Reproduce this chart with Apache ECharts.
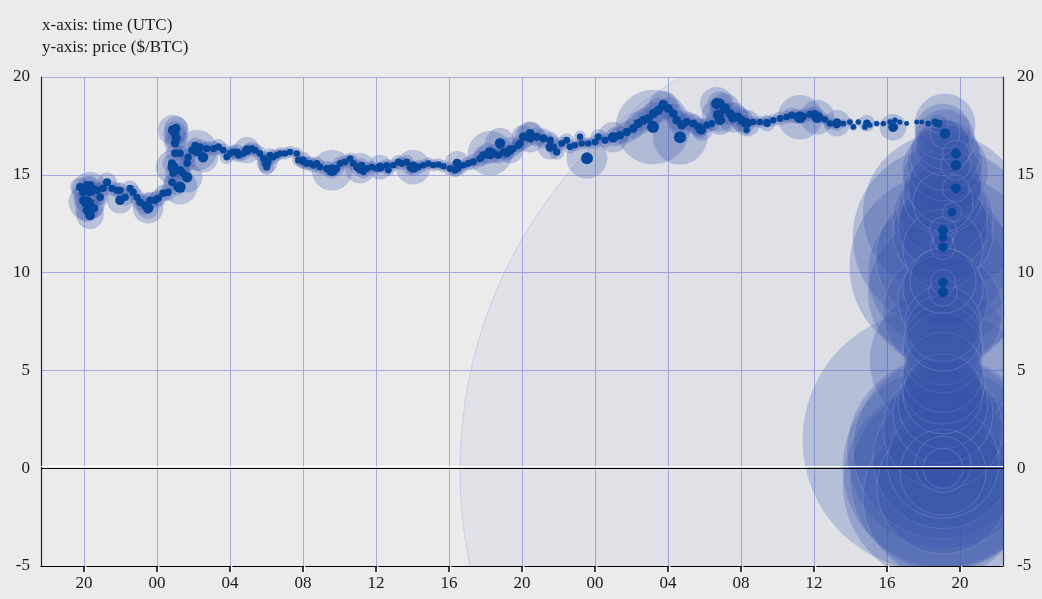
<!DOCTYPE html>
<html><head><meta charset="utf-8">
<script src="https://cdn.jsdelivr.net/npm/echarts@6/dist/echarts.min.js"></script>
<style>html,body{margin:0;padding:0;background:#ebebeb;}#c{width:1042px;height:599px;}</style>
</head><body><div id="c"></div>
<script>
// x values: hours since 00:00 UTC of day 1; y: price ($/BTC); third value: volume (BTC)
const hourTicks = [20,24,28,32,36,40,44,48,52,56,60,64,68];
const hourLabels = ['20','00','04','08','12','16','20','00','04','08','12','16','20'];

const trades = [
[19.78,14.37,40],[19.95,14.11,40],[20.16,14.47,40],[20.33,14.47,40],[20.49,14.31,30],[19.95,13.70,40],[20.16,13.60,60],[20.33,13.55,40],[20.16,13.19,60],[20.33,12.93,80],[20.55,13.29,40],[20.71,14.21,30],[20.88,13.85,30],[21.04,14.31,30],[21.26,14.62,40],[21.53,14.31,25],[21.81,14.21,25],[21.97,14.21,25],[22.25,13.85,30],[22.52,14.31,25],[22.69,14.11,25],[22.90,13.85,25],[23.07,13.60,30],[23.34,13.44,40],[23.51,13.29,50],[23.62,13.70,30],[23.89,13.70,30],[24.06,13.80,30],[24.33,14.06,30],[24.60,14.11,30],[24.82,14.62,30],[24.88,15.08,30],[24.82,15.59,40],[24.99,16.10,40],[24.99,16.62,50],[24.99,17.13,60],[25.04,17.38,60],[25.04,16.87,60],[25.26,16.10,30],[25.26,15.23,40],[25.10,14.37,30],[25.43,15.08,30],[25.65,15.59,30],[25.70,15.90,30],[25.92,16.26,30],
[20.33,14.21,144],[20.16,13.60,144],[21.97,13.70,75],[23.51,13.29,100],[24.88,17.28,100],[24.88,15.39,128],[25.26,14.37,128],[26.52,15.90,100],[26.19,16.26,178],[25.65,14.87,100],
[26.08,16.51,25],[26.36,16.43,25],[26.72,16.34,25],[27.09,16.34,25],[27.36,16.43,25],[27.63,16.26,20],[27.82,15.91,20],[28.00,16.09,20],[28.18,16.17,20],[28.46,16.00,20],[28.73,16.09,20],[29.00,16.26,20],[29.19,16.34,20],[29.37,16.26,20],[29.64,16.09,20],[29.83,15.83,20],[29.92,15.58,20],[30.01,15.40,25],[30.10,15.75,20],[30.19,16.00,20],[30.37,15.91,20],[30.56,16.00,15],[30.74,16.09,15],[31.01,16.09,15],[31.29,16.17,15],[31.66,16.09,15],[31.74,15.75,15],[32.02,15.66,20],[32.20,15.58,20],[32.38,15.58,20],[32.57,15.49,20],[32.75,15.58,20],[32.93,15.40,20],[33.30,15.32,25],[33.57,15.23,30],[33.85,15.32,25],[34.03,15.58,20],[34.30,15.66,20],[34.58,15.83,15],[34.76,15.58,20],[34.94,15.40,25],[35.22,15.49,20],[35.31,15.15,20],[35.49,15.32,20],[35.77,15.40,15],[36.04,15.32,15],[36.31,15.40,15],[36.59,15.49,15],[36.68,15.23,15],[36.95,15.49,15],[37.22,15.66,20],[37.41,15.58,20],[37.68,15.66,20],[37.86,15.40,25],[38.05,15.32,25],[38.32,15.40,20],[38.59,15.49,15],[38.87,15.58,15],[39.14,15.49,15],[39.42,15.53,15],[39.69,15.44,15],[40.06,15.32,20],[40.33,15.23,20],[40.51,15.32,15],[40.79,15.49,15],[41.06,15.58,20],[41.33,15.66,25],[41.70,15.83,30],[41.88,16.00,40],[42.15,16.09,50],[42.43,16.09,40],[42.70,16.00,30],[42.98,16.17,25],[43.25,16.17,25],[43.52,16.34,25],[43.80,16.51,25],
[28.93,16.26,75],[30.03,15.59,44],[33.59,15.23,178],[35.12,15.34,100],[36.22,15.39,64],[38.03,15.39,128],[40.44,15.59,64],[42.25,16.10,215],[43.34,16.26,75],[32.00,15.75,28],[28.38,16.15,28],
[43.16,16.09,25],[43.89,16.60,30],[44.07,16.94,60],[44.44,17.11,60],[44.81,16.94,40],[45.17,16.86,40],[45.54,16.77,30],[45.72,16.43,25],[45.90,16.17,25],[46.18,16.60,20],[46.45,16.77,20],[46.63,16.43,20],[46.90,16.51,15],[47.18,16.94,15],[47.27,16.60,15],[47.63,16.60,15],[48.00,16.68,20],[48.18,16.94,25],[48.55,16.77,25],[49.10,16.94,40],[49.37,17.02,40],[49.74,17.19,50],[50.10,17.37,50],[50.37,17.62,60],[50.65,17.79,60],[50.92,17.88,60],[51.20,18.13,60],[51.47,18.30,70],[51.74,18.56,90],[52.02,18.39,60],[52.29,18.13,50],[52.48,17.79,50],[52.75,17.54,60],[53.02,17.70,40],[53.39,17.62,40],[53.66,17.45,40],[53.85,17.28,50],[54.12,17.54,25],[54.40,17.62,25],[54.67,18.64,120],[54.76,18.05,120],[54.85,17.79,90],[55.12,18.39,100],[55.40,18.13,60],[55.85,17.96,50],[56.04,17.79,60],[56.22,17.62,40],[56.31,17.28,10],[56.68,17.70,15],[57.04,17.70,15],[57.41,17.70,15],[57.77,17.79,15],[58.14,17.88,20],[58.50,17.96,20],[58.78,18.05,25],[59.05,17.99,25],[59.42,17.99,25],[59.78,18.10,25],[60.06,18.13,25],[60.33,17.96,20],[60.60,17.83,15],[60.88,17.62,15],[61.24,17.54,15],[61.61,17.62,8],[61.97,17.70,6],[62.16,17.45,6],[62.43,17.70,4],[62.80,17.45,6],[63.07,17.54,4],[63.44,17.62,4],[63.80,17.62,4],[64.17,17.70,6],[64.44,17.79,4],[64.71,17.70,3],[64.44,17.45,6],[65.08,17.62,2],[65.63,17.70,2],[65.90,17.70,2],[66.26,17.62,8],[66.63,17.70,15],[66.81,17.62,40],
[51.18,17.44,608],[52.66,16.92,324],[47.56,15.84,178],[48.99,16.92,100],[44.44,16.92,100],[45.54,16.41,64],[54.85,18.66,64],[55.56,17.94,100],[56.33,17.64,75],[59.23,17.94,215],[60.17,17.94,128],[61.26,17.64,75],[64.33,17.43,75],[62.90,17.64,28],[57.43,17.64,28],[42.80,16.61,100],[53.75,17.28,28],
[67.18,17.11,100],[67.78,16.09,80],[67.78,15.49,100],[67.78,14.31,80],[67.56,13.09,40],[67.07,12.17,80],[67.07,11.81,50],[67.07,11.30,70],[67.07,9.51,70],[67.07,9.00,90]
];

// large block trades (drawn as volume circles only)
const blockTrades = [
[67.18,17.6,400],[67.07,17.2,348],[67.18,16.8,400],[67.07,16.4,348],[67.18,16.0,544],[67.18,15.6,642],[67.18,15.2,822],[67.07,14.8,711],[67.18,14.4,608],[67.07,14.0,711],[67.07,13.6,400],[67.07,13.2,900],[67.07,13.0,2844],[67.07,12.8,1111],[67.07,12.4,900],[67.07,12.0,1111],[67.07,11.8,3600],[67.07,11.6,44],[67.07,11.2,711],[67.07,10.8,1995],[67.07,10.3,3844],[67.07,10.0,2500],[67.07,9.6,484],[67.07,9.2,711],[67.07,9.0,2500],[67.07,8.6,900],[67.07,8.0,1600],[67.07,7.4,642],[67.07,6.9,642],[67.07,6.3,711],[67.07,5.9,711],[67.07,5.5,2368],[67.07,4.9,711],[67.07,4.4,784],[67.07,3.8,711],[67.07,3.3,900],[67.07,2.8,1111],[66.52,1.43,7511],[67.07,2.0,1600],[67.07,1.0,3600],[67.07,0.8,4096],[67.07,0.5,2178],[67.07,0.3,1393],[67.07,0.05,4444],[67.07,0.0,178],[67.07,0.2,348],[67.07,-0.2,822],[67.07,-0.5,3844],[67.07,-0.8,4444],[67.07,-1.0,1936],[67.07,-1.5,2844],[65.86,-0.1,94450]
];

const circles = trades.concat(blockTrades).slice().sort((a,b)=>b[2]-a[2]);

const serif = '"Liberation Serif","DejaVu Serif",serif';
const chart = echarts.init(document.getElementById('c'), null, {renderer:'canvas'});
chart.setOption({
  backgroundColor:'#ebebeb',
  animation:false,
  title:{text:'x-axis: time (UTC)\ny-axis: price ($/BTC)', left:37, top:10,
    textStyle:{fontFamily:serif, fontSize:17, fontWeight:'normal', color:'#1a1a1a', lineHeight:22}},
  grid:{left:41, right:39, top:77, bottom:33, containLabel:false},
  xAxis:{type:'value', min:17.64, max:70.36,
    axisLine:{show:true, onZero:false, lineStyle:{color:'#000', width:1.2}},
    axisTick:{show:true, length:6, customValues:hourTicks, lineStyle:{color:'#000', width:1.5, shadowColor:'#fff', shadowOffsetX:1.5}},
    axisLabel:{customValues:hourTicks, margin:9, fontFamily:serif, fontSize:17, color:'#1a1a1a',
      formatter:v=>hourLabels[hourTicks.indexOf(Math.round(v))] || ''},
    splitLine:{show:true, lineStyle:{color:'#a3aade', width:1}}
  },
  yAxis:[
    {type:'value', min:-5, max:20, interval:5, position:'left',
     axisLine:{show:true, lineStyle:{color:'#222', width:1.2}}, axisTick:{show:false},
     axisLabel:{margin:11, fontFamily:serif, fontSize:17, color:'#1a1a1a'},
     splitLine:{show:true, lineStyle:{color:'#a3aade', width:1}}},
    {type:'value', min:-5, max:20, interval:5, position:'right',
     axisLine:{show:true, lineStyle:{color:'#333', width:1.2}}, axisTick:{show:false},
     axisLabel:{margin:14, fontFamily:serif, fontSize:17, color:'#1a1a1a'},
     splitLine:{show:false}}
  ],
  series:[
    {type:'scatter', data:[], z:1, silent:true,
     markLine:{silent:true, symbol:'none', label:{show:false}, animation:false,
       lineStyle:{color:'#000', width:1.2, type:'solid', shadowColor:'#fff', shadowOffsetY:-2, shadowBlur:0},
       data:[{yAxis:0}]}},
    {type:'custom', z:2, clip:true, silent:true, data:circles,
     encode:{x:0, y:1},
     renderItem:function(params, api){
       const c = api.coord([api.value(0), api.value(1)]);
       const r = 1.5*Math.sqrt(api.value(2));
       const a = Math.min(0.27, 31.5/r);
       return {type:'circle', shape:{cx:c[0], cy:c[1], r:r},
         style:{fill:'rgba(55,85,170,'+a.toFixed(3)+')', stroke:'rgba(150,160,215,0.5)', lineWidth:0.7}};
     }},
    {type:'scatter', z:3, silent:true, data:trades,
     symbolSize:v=>Math.max(4, Math.min(12, 4+0.65*Math.sqrt(v[2]))),
     itemStyle:{color:'#07479a', opacity:1}}
  ]
});
</script></body></html>
